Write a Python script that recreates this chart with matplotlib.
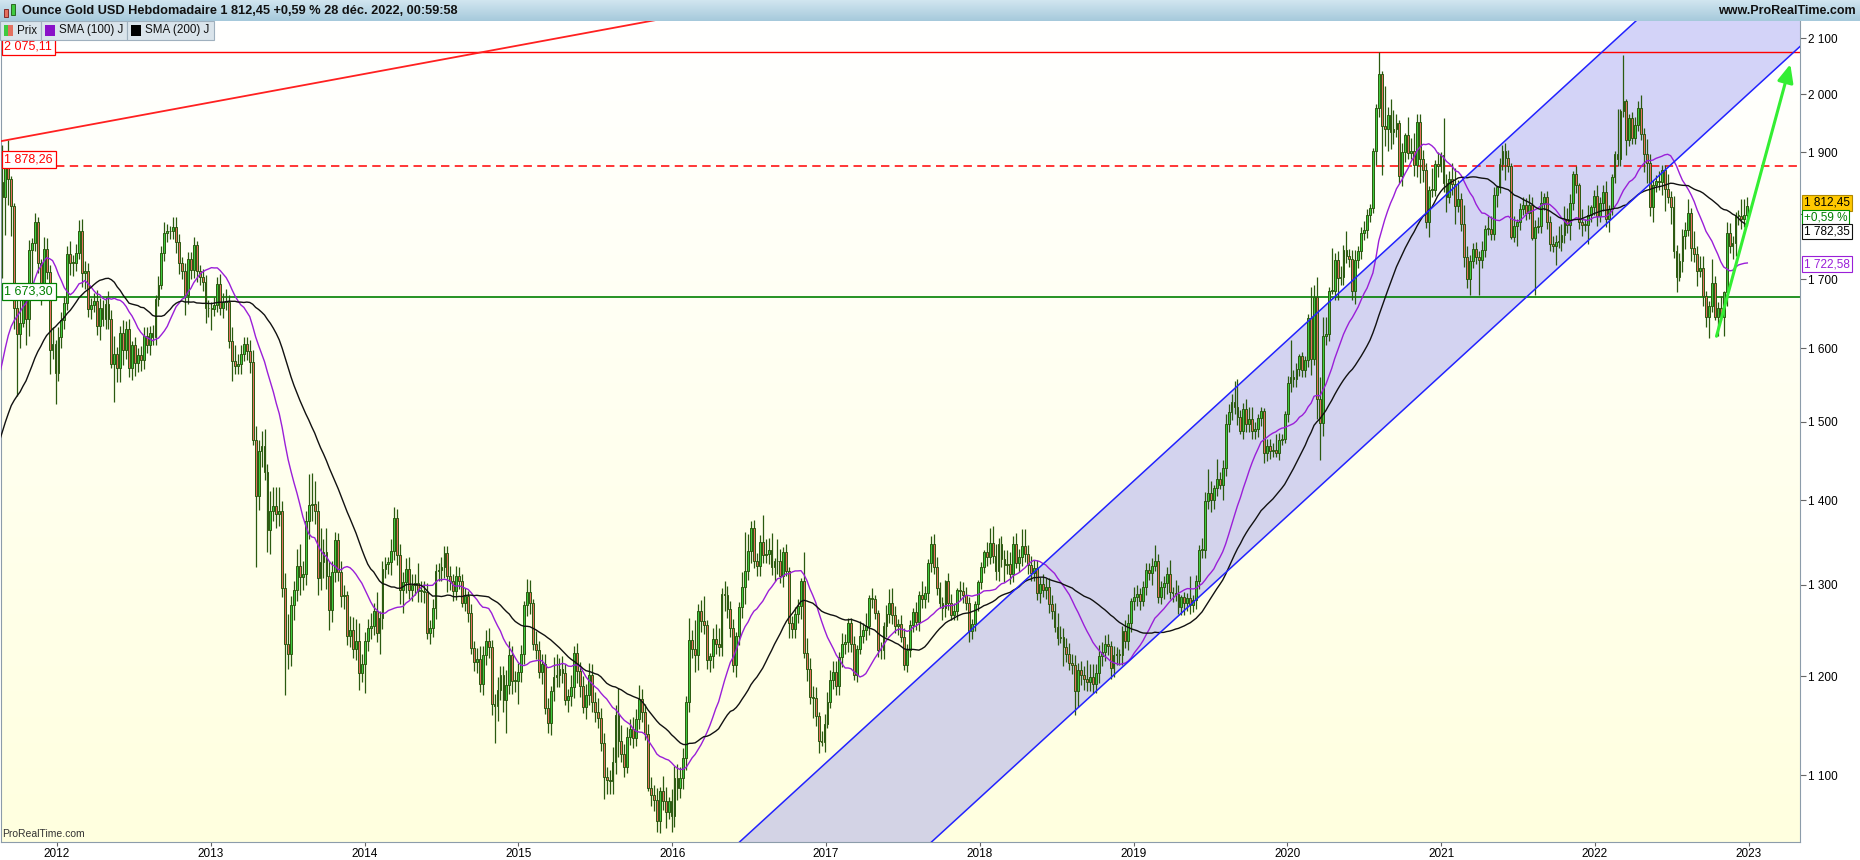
import numpy as np
import pandas as pd
import matplotlib
matplotlib.use("Agg")
import matplotlib.pyplot as plt
from matplotlib.patches import Polygon, Rectangle
from matplotlib.ticker import FixedLocator, FixedFormatter, NullLocator

plt.rcParams['font.family'] = ['Liberation Sans', 'DejaVu Sans']

W, H = 1860, 860

# ---- cours hebdomadaires (cloture du vendredi), nov. 2010 -> dec. 2022 ----
close_2010 = [1393, 1367, 1353, 1363, 1406, 1385, 1375, 1380, 1421]
close_2011 = [1368, 1361, 1343, 1340, 1349, 1360, 1388, 1410, 1429, 1421, 1418, 1428,
              1429, 1474, 1486, 1504, 1556, 1491, 1493, 1510, 1536, 1542, 1529, 1539, 1501,
              1485, 1542, 1594, 1601, 1628, 1663, 1744, 1852, 1828,
              1877, 1856, 1813, 1657, 1620, 1636, 1682, 1642, 1744, 1755, 1788, 1725, 1681,
              1746, 1711, 1598, 1606, 1565]
close_2012 = [1616, 1640, 1665, 1738, 1725, 1725, 1740, 1773, 1710, 1712, 1656, 1662, 1668,
              1631, 1658, 1642, 1663, 1642, 1578, 1592, 1573, 1622, 1597, 1627, 1572, 1604,
              1579, 1591, 1583, 1618, 1604, 1621, 1616, 1671, 1691, 1740, 1770, 1774, 1773,
              1780, 1757, 1724, 1712, 1676, 1731, 1714, 1752, 1712, 1703, 1696, 1658, 1657]
close_2013 = [1656, 1662, 1693, 1658, 1667, 1667, 1610, 1582, 1576, 1578, 1592, 1606, 1596,
              1581, 1476, 1406, 1462, 1468, 1435, 1364, 1387, 1393, 1383, 1387, 1296, 1234,
              1223, 1277, 1294, 1322, 1309, 1312, 1375, 1395, 1396, 1387, 1308, 1326, 1338,
              1310, 1272, 1315, 1352, 1315, 1287, 1288, 1243, 1250, 1229, 1237, 1203, 1213]
close_2014 = [1237, 1252, 1254, 1270, 1246, 1263, 1318, 1324, 1326, 1339, 1379, 1335, 1294,
              1303, 1318, 1294, 1300, 1302, 1293, 1293, 1292, 1246, 1252, 1274, 1316, 1317,
              1320, 1337, 1310, 1304, 1293, 1310, 1305, 1280, 1287, 1268, 1230, 1215, 1218,
              1192, 1222, 1238, 1231, 1171, 1169, 1185, 1201, 1175, 1191, 1222, 1195, 1195]
close_2015 = [1204, 1223, 1277, 1292, 1279, 1234, 1228, 1204, 1213, 1167, 1152, 1184, 1199,
              1201, 1207, 1203, 1175, 1179, 1189, 1225, 1205, 1190, 1168, 1180, 1201, 1173,
              1163, 1157, 1132, 1098, 1095, 1094, 1113, 1160, 1134, 1121, 1108, 1138, 1146,
              1137, 1156, 1176, 1163, 1141, 1088, 1081, 1076, 1057, 1085, 1075, 1065, 1075]
close_2016 = [1061, 1097, 1088, 1097, 1117, 1173, 1239, 1229, 1222, 1270, 1259, 1255, 1217,
              1221, 1240, 1234, 1231, 1290, 1289, 1273, 1252, 1212, 1243, 1275, 1298, 1316,
              1339, 1366, 1327, 1322, 1350, 1335, 1336, 1341, 1321, 1327, 1328, 1310, 1338, 1316,
              1257, 1251, 1267, 1276, 1304, 1225, 1207, 1178, 1177, 1159, 1134, 1133, 1151]
close_2017 = [1173, 1196, 1204, 1190, 1220, 1234, 1236, 1257, 1234, 1201, 1229, 1243, 1249,
              1254, 1285, 1284, 1268, 1228, 1228, 1254, 1267, 1279, 1266, 1254, 1256, 1242,
              1212, 1228, 1255, 1269, 1258, 1289, 1284, 1291, 1325, 1347, 1320, 1297, 1280,
              1274, 1304, 1280, 1266, 1270, 1294, 1293, 1288, 1280, 1248, 1256, 1278, 1303]
close_2018 = [1320, 1338, 1332, 1349, 1333, 1316, 1347, 1330, 1323, 1324, 1313, 1347, 1325,
              1332, 1345, 1336, 1323, 1314, 1319, 1291, 1301, 1294, 1298, 1278, 1270, 1253,
              1241, 1242, 1231, 1223, 1214, 1212, 1184, 1206, 1201, 1197, 1194, 1199, 1192,
              1203, 1221, 1226, 1234, 1232, 1209, 1222, 1223, 1222, 1248, 1238, 1257, 1282]
close_2019 = [1286, 1290, 1282, 1298, 1317, 1314, 1322, 1328, 1286, 1298, 1302, 1313, 1292,
              1291, 1290, 1275, 1286, 1279, 1285, 1277, 1283, 1305, 1341, 1341, 1399, 1409,
              1400, 1415, 1426, 1419, 1440, 1497, 1513, 1527, 1520, 1506, 1488, 1517, 1497,
              1504, 1488, 1490, 1505, 1514, 1459, 1468, 1462, 1464, 1460, 1476, 1478, 1510]
close_2020 = [1552, 1560, 1557, 1571, 1589, 1570, 1584, 1643, 1585, 1674, 1530, 1498, 1617,
              1620, 1683, 1683, 1729, 1702, 1704, 1744, 1735, 1730, 1683, 1729, 1743, 1771,
              1775, 1798, 1810, 1902, 1975, 2035, 1944, 1940, 1964, 1934, 1940, 1950, 1861,
              1900, 1930, 1899, 1902, 1879, 1951, 1889, 1871, 1788, 1839, 1839, 1881, 1877]
close_2021 = [1895, 1850, 1828, 1856, 1848, 1813, 1824, 1784, 1734, 1700, 1727, 1745, 1733,
              1729, 1744, 1777, 1777, 1769, 1831, 1844, 1881, 1903, 1891, 1877, 1764, 1781,
              1787, 1808, 1815, 1802, 1814, 1763, 1780, 1781, 1817, 1827, 1787, 1754, 1751,
              1757, 1757, 1767, 1793, 1783, 1818, 1865, 1846, 1788, 1783, 1783, 1798, 1811, 1829]
close_2022 = [1797, 1817, 1835, 1792, 1808, 1859, 1898, 1889, 1970, 1988, 1921, 1958,
              1925, 1947, 1975, 1931, 1897, 1883, 1811, 1846, 1853, 1851, 1871, 1840, 1827,
              1811, 1742, 1703, 1727, 1766, 1775, 1802, 1747, 1738, 1712, 1717, 1675, 1644, 1660,
              1695, 1644, 1657, 1644, 1681, 1771, 1751, 1755, 1797, 1797, 1793, 1798, 1812.45]

# meches au-dela du corps (USD), a partir d'aout 2011
up_2011 = [20, 70, 28, 60, 8, 44, 6, 5, 21, 44, 4, 2, 16, 7, 14, 7, 5, 18, 17, 11, 24, 6]
dn_2011 = [18, 5, 24, 126, 61, 41, 48, 29, 86, 20, 6, 38, 24, 49, 13, 15, 19, 6, 11, 34, 13, 42]
up_2012 = [14, 12, 10, 12, 20, 12, 14, 18, 19, 15, 12, 10, 12, 16, 14, 12, 10, 20, 12, 25, 10,
           10, 18, 12, 14, 6, 12, 10, 12, 12, 12, 10, 12, 5, 14, 10, 18, 10, 8, 15, 15, 12, 10,
           12, 10, 10, 12, 6, 10, 12, 10, 12]
dn_2012 = [10, 15, 12, 10, 18, 20, 12, 10, 22, 24, 12, 14, 10, 12, 20, 10, 15, 15, 5, 51, 20,
           20, 20, 12, 12, 16, 18, 12, 14, 12, 10, 14, 12, 12, 10, 6, 12, 14, 12, 12, 18, 16, 12,
           28, 12, 14, 12, 16, 12, 14, 22, 12]
up_2013 = [10, 12, 10, 15, 12, 18, 10, 20, 22, 14, 12, 10, 10, 15, 16, 18, 14, 20, 22, 10, 25, 23,
           24, 30, 12, 18, 33, 10, 10, 20, 25, 16, 12, 38, 38, 28, 12, 40, 15, 28, 18, 12, 10,
           9, 12, 12, 5, 15, 14, 25, 20, 10]
dn_2013 = [30, 10, 10, 10, 15, 12, 10, 27, 12, 12, 14, 10, 12, 15, 6, 85, 18, 20, 10, 26, 28, 12,
           16, 14, 10, 54, 15, 12, 16, 12, 20, 15, 12, 22, 20, 16, 20, 14, 18, 15, 22, 14, 12,
           10, 12, 14, 10, 12, 10, 12, 18, 9]
up_2014 = [10, 10, 14, 10, 22, 8, 10, 8, 6, 15, 13, 10, 12, 12, 13, 14, 12, 10, 23, 12, 12, 10,
           8, 10, 8, 8, 12, 8, 8, 12, 8, 12, 10, 8, 10, 6, 10, 8, 12, 14, 10, 12, 14, 8,
           10, 14, 10, 10, 15, 16, 10, 10]
dn_2014 = [31, 10, 12, 10, 10, 22, 12, 10, 12, 15, 10, 12, 16, 26, 12, 10, 12, 12, 12, 12, 12, 6,
           12, 10, 12, 12, 12, 12, 18, 10, 11, 10, 10, 5, 10, 10, 6, 10, 12, 9, 12, 10, 12, 11,
           37, 15, 10, 12, 33, 10, 14, 12]
up_2015 = [10, 10, 5, 15, 14, 5, 14, 10, 10, 10, 10, 6, 21, 22, 12, 14, 10, 8, 12, 7, 10, 10,
           10, 12, 13, 12, 10, 14, 10, 10, 10, 10, 15, 10, 28, 16, 10, 10, 10, 12, 10, 15, 10, 8,
           10, 10, 10, 12, 4, 14, 14, 4]
dn_2015 = [24, 10, 10, 12, 12, 6, 10, 6, 12, 6, 10, 12, 10, 10, 12, 10, 5, 12, 10, 12, 12, 12,
           6, 12, 10, 10, 10, 10, 8, 21, 13, 12, 12, 12, 16, 8, 10, 6, 8, 10, 8, 10, 10, 6,
           3, 10, 10, 10, 11, 8, 15, 6]
up_2016 = [12, 12, 14, 11, 10, 6, 24, 10, 31, 8, 13, 28, 6, 4, 12, 16, 18, 6, 14, 10, 9, 10,
           4, 6, 17, 46, 20, 9, 10, 10, 8, 32, 18, 14, 20, 4, 25, 14, 6, 10, 4, 8, 8, 8,
           4, 34, 16, 12, 12, 12, 4, 10, 10]
dn_2016 = [14, 10, 12, 10, 10, 12, 10, 10, 18, 16, 12, 10, 10, 13, 12, 10, 10, 10, 18, 10, 10, 8,
           13, 10, 12, 20, 10, 14, 8, 12, 12, 10, 10, 12, 10, 16, 14, 8, 12, 6, 16, 10, 10, 10,
           14, 6, 12, 7, 20, 10, 12, 4, 10]
up_2017 = [10, 10, 12, 12, 6, 12, 9, 6, 6, 9, 4, 16, 8, 14, 3, 11, 5, 4, 8, 4, 10,
           16, 17, 10, 6, 10, 10, 6, 6, 5, 12, 4, 16, 8, 5, 10, 12, 12, 6, 6, 2, 10, 10,
           10, 2, 10, 10, 10, 6, 6, 4, 3]
dn_2017 = [4, 6, 10, 10, 10, 10, 10, 10, 8, 5, 7, 6, 8, 10, 10, 10, 6, 8, 10, 10, 12,
           10, 10, 8, 10, 6, 6, 8, 8, 8, 8, 10, 10, 10, 10, 10, 8, 8, 6, 14, 10, 8, 6,
           6, 10, 10, 8, 8, 12, 8, 8, 8]
up_2018 = [6, 3, 12, 17, 20, 14, 8, 10, 10, 16, 14, 10, 14, 10, 20, 20, 10, 10, 10, 10, 8,
           12, 10, 10, 10, 10, 15, 12, 10, 10, 12, 10, 10, 8, 10, 10, 20, 14, 14, 10, 12, 10, 10,
           11, 6, 10, 8, 6, 6, 12, 10, 3]
dn_2018 = [8, 6, 10, 8, 8, 10, 12, 10, 20, 10, 12, 10, 6, 10, 10, 10, 10, 10, 10, 8, 12,
           8, 10, 10, 8, 6, 8, 6, 20, 8, 8, 10, 24, 16, 10, 12, 10, 10, 10, 10, 10, 10, 10,
           10, 12, 10, 10, 10, 10, 8, 10, 10]
up_2019 = [12, 10, 6, 7, 8, 8, 9, 18, 8, 6, 8, 8, 16, 6, 15, 10, 3, 6, 6, 25, 6, 6,
           5, 14, 12, 30, 15, 4, 26, 10, 10, 13, 11, 10, 28, 37, 10, 8, 14, 16, 16, 10, 5,
           6, 4, 10, 10, 8, 20, 10, 6, 4]
dn_2019 = [10, 10, 10, 6, 10, 8, 14, 6, 6, 8, 14, 12, 8, 10, 8, 8, 9, 13, 8, 10, 8, 10,
           10, 10, 10, 10, 14, 10, 10, 5, 19, 10, 10, 10, 10, 10, 4, 10, 10, 10, 10, 10, 10,
           10, 12, 10, 10, 8, 6, 10, 6, 6]
up_2020 = [10, 51, 10, 8, 3, 6, 5, 6, 46, 18, 29, 30, 28, 25, 6, 64, 10, 13, 16, 8, 30, 10,
           14, 15, 8, 8, 14, 10, 6, 6, 8, 40, 5, 70, 13, 28, 32, 15, 5, 16, 3, 30, 22, 30,
           15, 15, 15, 12, 6, 36, 6, 19]
dn_2020 = [10, 12, 10, 10, 10, 10, 10, 10, 22, 8, 26, 47, 16, 12, 10, 5, 14, 32, 10, 12, 10, 12,
           13, 20, 12, 12, 12, 12, 10, 8, 22, 15, 81, 29, 38, 28, 20, 14, 12, 16, 16, 10, 10, 18,
           20, 39, 20, 10, 24, 12, 10, 18]
up_2021 = [5, 64, 14, 14, 27, 27, 31, 10, 31, 16, 10, 10, 12, 10, 14, 6, 20, 20, 12, 1, 9, 9,
           13, 13, 6, 16, 5, 10, 12, 10, 18, 14, 10, 14, 20, 7, 10, 10, 12, 10, 24, 18, 20, 16,
           14, 4, 12, 3, 20, 10, 16, 4, 10]
dn_2021 = [10, 15, 25, 10, 18, 28, 10, 10, 16, 13, 24, 10, 10, 52, 12, 10, 10, 10, 10, 20, 10, 10,
           36, 10, 3, 8, 31, 12, 10, 12, 10, 4, 86, 10, 10, 10, 10, 12, 10, 30, 10, 14, 12, 12,
           24, 12, 12, 12, 18, 10, 30, 10, 12]
up_2022 = [17, 10, 12, 18, 7, 6, 4, 76, 4, 82, 3, 8, 10, 13, 13, 23, 10, 25, 15, 8, 10,
           17, 8, 8, 25, 10, 18, 10, 12, 10, 13, 22, 8, 27, 12, 18, 18, 8, 8, 35, 10, 10, 18,
           2, 16, 15, 10, 7, 10, 27, 26, 14]
dn_2022 = [15, 10, 12, 12, 20, 10, 10, 11, 11, 10, 26, 10, 10, 10, 10, 10, 30, 33, 14, 24, 10,
           12, 20, 35, 10, 26, 10, 22, 5, 16, 20, 10, 20, 12, 22, 8, 15, 14, 29, 8, 4, 26, 4,
           27, 20, 12, 20, 20, 14, 16, 14, 14]

# niveaux et objets traces
level_top = 2075.11
level_res = 1878.26
level_sup = 1673.30
last_price = 1812.45
last_change = '+0,59 %'
sma100_last = 1722.58
sma200_last = 1782.35
chan_a = [(2016.438, 1037.4), (2022.266, 2132.4)]   # ligne haute du canal
chan_shift = 1.248                                   # decalage (annees) de la ligne basse
red_trend = [(2011.636, 1919.0), (2015.86, 2132.4)]
arrow_from = (2022.79, 1617.0)
arrow_to = (2023.27, 2053.0)
years = list(range(2012, 2024))
yticks = [1100, 1200, 1300, 1400, 1500, 1600, 1700, 1800, 1900, 2000, 2100]
ylo, yhi = 1037.4, 2132.4
xlo, xhi = 2011.636, 2023.333

title = 'Ounce Gold USD Hebdomadaire 1 812,45 +0,59 % 28 déc. 2022, 00:59:58'

# ---- preparation ----
closes = np.array(close_2010 + close_2011 + close_2012 + close_2013 + close_2014 + close_2015
                  + close_2016 + close_2017 + close_2018 + close_2019 + close_2020 + close_2021
                  + close_2022, dtype=float)
up = np.array(up_2011 + up_2012 + up_2013 + up_2014 + up_2015 + up_2016 + up_2017 + up_2018
              + up_2019 + up_2020 + up_2021 + up_2022, dtype=float)
dn = np.array(dn_2011 + dn_2012 + dn_2013 + dn_2014 + dn_2015 + dn_2016 + dn_2017 + dn_2018
              + dn_2019 + dn_2020 + dn_2021 + dn_2022, dtype=float)

fri = pd.date_range(end='2022-12-30', periods=len(closes), freq='W-FRI')
mid = fri - pd.Timedelta(days=2)
xw = np.asarray(mid.year + (mid.dayofyear - 0.5) / np.where(mid.is_leap_year, 366, 365), dtype=float)

sma100 = pd.Series(closes).rolling(20).mean()
sma200 = pd.Series(closes).rolling(40).mean()

n0 = len(closes) - len(up)
o = closes[n0 - 1:-1]
c = closes[n0:]
x = xw[n0:]
hi = np.maximum(o, c) + up
lo = np.minimum(o, c) - dn


def fx(px):
    return px / W


def fy(py):
    return 1 - py / H


def rect_px(x0, y0, x1, y1, **kw):
    r = Rectangle((fx(x0), fy(y1)), (x1 - x0) / W, (y1 - y0) / H, transform=fig.transFigure, **kw)
    fig.add_artist(r)


def extend(p0, p1, t0=-0.3, t1=1.3):
    # prolonge un segment (lineaire en x, log en y)
    lx = [p0[0] + t * (p1[0] - p0[0]) for t in (t0, t1)]
    ly = [np.exp(np.log(p0[1]) + t * (np.log(p1[1]) - np.log(p0[1]))) for t in (t0, t1)]
    return lx, ly


fig = plt.figure(figsize=(W / 100, H / 100), dpi=100, facecolor='white')
rect = [fx(1), fy(842), fx(1800) - fx(1), (842 - 21) / H]

# fond degrade blanc -> jaune pale
bg = fig.add_axes(rect, zorder=-1)
g = np.linspace(0, 1, 256)[:, None, None]
top_c = np.array([1.0, 1.0, 1.0])
bot_c = np.array([1.0, 1.0, 0.875])
bg.imshow(top_c + (bot_c - top_c) * g, aspect='auto', extent=[0, 1, 0, 1])
bg.axis('off')

ax = fig.add_axes(rect)
ax.set_facecolor('none')
ax.set_yscale('log')

# canal
a0, a1 = chan_a
b0 = (a0[0] + chan_shift, a0[1])
b1 = (a1[0] + chan_shift, a1[1])
ax_l, ay_l = extend(a0, a1)
bx_l, by_l = extend(b0, b1)
ax.add_patch(Polygon([(ax_l[0], ay_l[0]), (ax_l[1], ay_l[1]), (bx_l[1], by_l[1]), (bx_l[0], by_l[0])],
                     closed=True, fc=(0.55, 0.55, 0.94), alpha=0.38, ec='none', zorder=1))

# niveaux horizontaux
ax.axhline(level_top, color='#ff0000', lw=1.0, zorder=2)
ax.axhline(level_res, color='#ff0000', lw=1.1, ls=(0, (5.5, 3.5)), zorder=2)
ax.axhline(level_sup, color='#008000', lw=1.2, zorder=2)

# chandeliers
edge = '#2b5a10'
cols = ['#3fca3f' if cc >= oo else '#e4705f' for oo, cc in zip(o, c)]
body_w = 0.62 * 7 / 365.25
ax.vlines(x, lo, hi, color=edge, lw=0.9, zorder=3)
ax.bar(x, np.maximum(np.abs(c - o), 0.8), bottom=np.minimum(o, c), width=body_w,
       color=cols, edgecolor=edge, linewidth=0.7, zorder=4)

# moyennes mobiles
ax.plot(xw, sma100, color='#9a1fd8', lw=1.0, zorder=5)
ax.plot(xw, sma200, color='#111111', lw=1.0, zorder=5)

# lignes du canal, oblique rouge, fleche
ax.plot(ax_l, ay_l, color='#2222ff', lw=1.1, zorder=6)
ax.plot(bx_l, by_l, color='#2222ff', lw=1.1, zorder=6)
rx, ry = extend(red_trend[0], red_trend[1], 0.0, 1.5)
ax.plot(rx, ry, color='#ff2020', lw=1.3, zorder=6)
ax.annotate('', xy=arrow_to, xytext=arrow_from,
            arrowprops=dict(arrowstyle='-|>,head_length=0.9,head_width=0.4', color='#33ee33',
                            lw=2.2, shrinkA=0, shrinkB=0, mutation_scale=12), zorder=7)

ax.set_xlim(xlo, xhi)
ax.set_ylim(ylo, yhi)

# axes
ax.yaxis.tick_right()
ax.yaxis.set_major_locator(FixedLocator(yticks))
ax.yaxis.set_minor_locator(NullLocator())
ax.yaxis.set_major_formatter(FixedFormatter(['' if v == 1800 else f'{v:,}'.replace(',', ' ') for v in yticks]))
ax.tick_params(axis='y', which='major', direction='out', length=4, width=0.8, color='#666666',
               labelcolor='black', labelsize=8.5, pad=2)
ax.set_xticks(years)
ax.set_xticklabels([str(y) for y in years])
ax.tick_params(axis='x', direction='out', length=3, width=0.8, color='#666666',
               labelcolor='black', labelsize=8.5, pad=1.5)
for s in ax.spines.values():
    s.set_color('#8c9caa')
    s.set_linewidth(0.8)
ax.spines['top'].set_visible(False)


def left_tag(val, txt, col):
    ax.annotate(txt, xy=(0, val), xycoords=('axes fraction', 'data'), xytext=(2.5, 0.0),
                textcoords='offset points', ha='left', va='bottom', fontsize=9, color=col,
                bbox=dict(boxstyle='square,pad=0.2', fc='white', ec=col, lw=0.9), zorder=10)


left_tag(level_top, '2 075,11', '#ff0000')
left_tag(level_res, '1 878,26', '#ff0000')
left_tag(level_sup, '1 673,30', '#008000')


def right_tag(val, txt, fc, ec, tc, dy=0.0):
    ax.annotate(txt, xy=(1, val), xycoords=('axes fraction', 'data'), xytext=(3, dy),
                textcoords='offset points', ha='left', va='center', fontsize=8.5, color=tc,
                bbox=dict(boxstyle='square,pad=0.15', fc=fc, ec=ec, lw=0.8),
                annotation_clip=False, zorder=10)


right_tag(last_price, '1 812,45', '#ffc800', '#b08800', 'black', 2.5)
right_tag(last_price, last_change, 'white', '#009000', '#008000', -8.0)
right_tag(sma200_last, '1 782,35', 'white', '#111111', 'black', -4.5)
right_tag(sma100_last, '1 722,58', 'white', '#9a1fd8', '#9a1fd8', 0.0)

# barre de titre
tb = fig.add_axes([0, fy(21), 1, 21 / H])
gt = np.linspace(0, 1, 64)[:, None, None]
t_top = np.array([0.82, 0.90, 0.94])
t_bot = np.array([0.65, 0.79, 0.86])
tb.imshow(t_top + (t_bot - t_top) * gt, aspect='auto', extent=[0, 1, 0, 1])
tb.axis('off')
rect_px(4, 9, 8, 17, fc='#e4705f', ec='#7a1a1a', lw=0.6)
rect_px(11, 4, 15, 15, fc='#3fca3f', ec='#1f5a10', lw=0.6)
fig.text(fx(22), fy(10.5), title, fontsize=9.2, fontweight='bold', va='center', color='#111111')
fig.text(fx(1856), fy(10.5), 'www.ProRealTime.com', fontsize=9.0, fontweight='bold',
         va='center', ha='right', color='#111111')

# legende
for x0, x1 in [(0, 41), (41, 127), (127, 214)]:
    rect_px(x0, 21, x1, 40, fc='#dae4eb', ec='#9fb0be', lw=0.8)
rect_px(4, 25, 8, 36, fc='#3fca3f', ec='none')
rect_px(8, 25, 13, 36, fc='#e4705f', ec='none')
rect_px(45, 25, 55, 36, fc='#8a10c8', ec='none')
rect_px(131, 25, 141, 36, fc='#000000', ec='none')
fig.text(fx(17), fy(30.5), 'Prix', fontsize=8.4, va='center', color='#111111')
fig.text(fx(59), fy(30.5), 'SMA (100) J', fontsize=8.4, va='center', color='#111111')
fig.text(fx(145), fy(30.5), 'SMA (200) J', fontsize=8.4, va='center', color='#111111')

fig.text(fx(2), fy(834), 'ProRealTime.com', fontsize=7.5, va='center', color='#333333')

fig.savefig('out.png', dpi=100, facecolor='white')
